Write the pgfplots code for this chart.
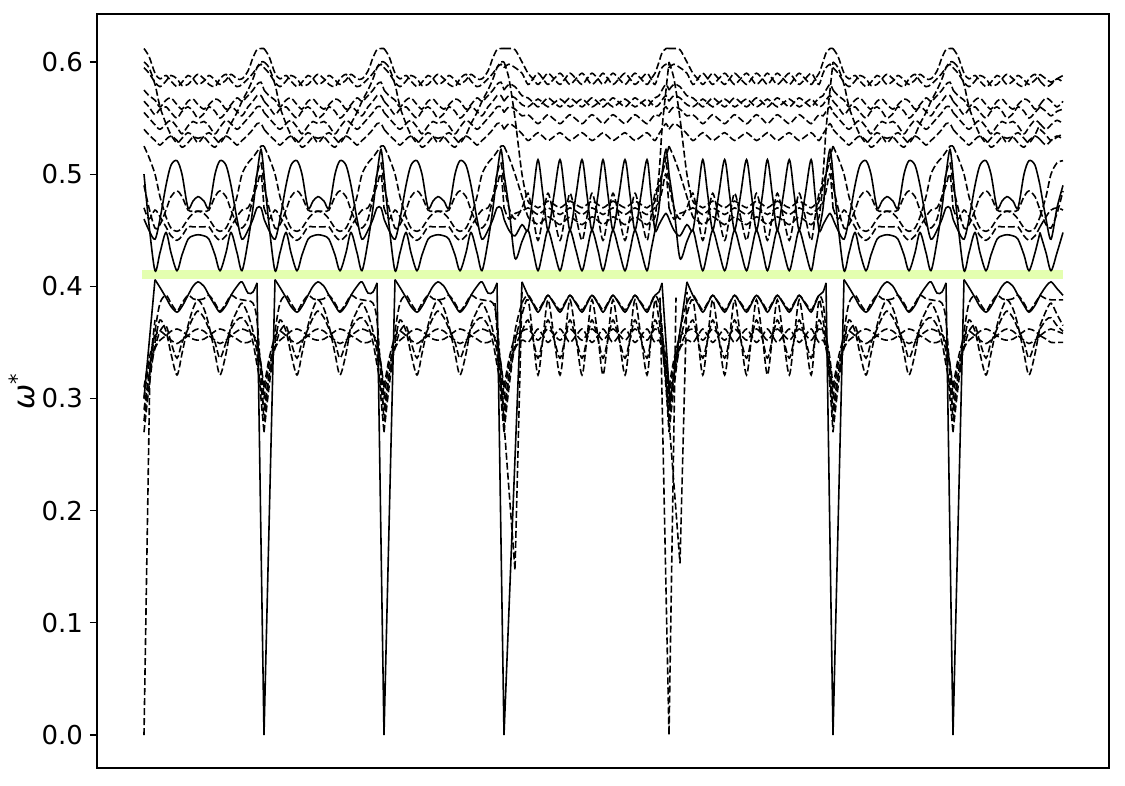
\documentclass[border=0pt]{standalone}
\usepackage{fontspec}
\setmainfont{DejaVu Sans}
\usepackage{pgfplots}
\usepackage{pgfplotstable}
\pgfplotsset{compat=1.18}
\definecolor{gband}{RGB}{228,255,176}

% type A segment (length 120)
\pgfplotstableread{
r L1 L2 L3 L4 L5 L6 M1 M2 M3 M4 M5 U1 U2 U3 U4 U5 U6 U7
0 nan 0.280 0.270 0.290 0.300 0.310 0.500 0.460 0.490 0.470 0.525 0.612 0.595 0.575 0.565 0.555 0.540 0.600
5 nan 0.320 0.310 0.320 0.330 0.335 0.455 0.450 0.470 0.460 0.515 0.605 0.590 0.570 0.560 0.550 0.535 0.595
11 0.406 0.360 0.350 0.345 0.345 0.355 0.414 0.442 0.452 0.468 0.500 0.590 0.582 0.566 0.553 0.544 0.530 0.580
16 0.399 0.385 0.370 0.360 0.352 0.360 0.430 0.460 0.455 0.462 0.480 0.585 0.578 0.560 0.558 0.540 0.526 0.560
22 0.390 0.392 0.360 0.365 0.356 0.356 0.448 0.490 0.468 0.453 0.462 0.588 0.583 0.566 0.560 0.545 0.531 0.545
27 0.382 0.385 0.340 0.350 0.360 0.352 0.430 0.508 0.480 0.445 0.452 0.583 0.588 0.568 0.555 0.548 0.534 0.535
33 0.377 0.378 0.321 0.336 0.362 0.349 0.414 0.512 0.485 0.441 0.449 0.578 0.585 0.562 0.550 0.542 0.530 0.528
38 0.382 0.385 0.340 0.350 0.360 0.352 0.428 0.500 0.480 0.445 0.452 0.582 0.579 0.558 0.556 0.536 0.524 0.532
44 0.392 0.392 0.365 0.362 0.356 0.356 0.442 0.470 0.468 0.453 0.460 0.588 0.580 0.565 0.560 0.543 0.528 0.537
49 0.400 0.389 0.380 0.372 0.353 0.360 0.445 0.476 0.467 0.453 0.465 0.585 0.585 0.567 0.556 0.547 0.533 0.534
54 0.404 0.388 0.388 0.378 0.352 0.362 0.446 0.480 0.467 0.453 0.467 0.580 0.589 0.562 0.550 0.545 0.532 0.528
60 0.400 0.389 0.380 0.372 0.353 0.360 0.445 0.476 0.467 0.453 0.465 0.583 0.585 0.558 0.554 0.547 0.533 0.534
65 0.392 0.392 0.365 0.362 0.356 0.356 0.442 0.470 0.468 0.453 0.460 0.588 0.580 0.562 0.560 0.543 0.528 0.537
71 0.383 0.385 0.340 0.350 0.360 0.352 0.428 0.500 0.480 0.445 0.452 0.584 0.578 0.567 0.556 0.536 0.524 0.532
76 0.377 0.378 0.321 0.336 0.362 0.349 0.414 0.512 0.485 0.441 0.449 0.580 0.585 0.565 0.550 0.542 0.530 0.528
82 0.383 0.385 0.340 0.350 0.360 0.352 0.430 0.508 0.480 0.445 0.452 0.584 0.589 0.558 0.555 0.548 0.534 0.535
87 0.392 0.392 0.365 0.362 0.356 0.356 0.448 0.490 0.468 0.453 0.462 0.589 0.583 0.562 0.560 0.545 0.531 0.545
93 0.400 0.389 0.378 0.370 0.353 0.360 0.430 0.460 0.455 0.462 0.480 0.585 0.578 0.568 0.556 0.540 0.526 0.555
98 0.404 0.388 0.385 0.372 0.350 0.362 0.414 0.442 0.452 0.468 0.500 0.585 0.580 0.565 0.552 0.544 0.530 0.565
104 0.394 0.387 0.375 0.365 0.350 0.360 0.440 0.450 0.460 0.470 0.510 0.592 0.585 0.570 0.560 0.550 0.535 0.575
109 0.395 0.385 0.360 0.350 0.352 0.357 0.470 0.460 0.480 0.480 0.515 0.604 0.590 0.575 0.565 0.555 0.540 0.585
113 0.403 0.370 0.340 0.330 0.350 0.350 0.500 0.470 0.500 0.490 0.520 0.611 0.595 0.580 0.570 0.560 0.545 0.595
117 nan 0.320 0.300 0.310 0.330 0.330 0.522 0.470 0.510 0.500 0.525 0.612 0.598 0.582 0.570 0.560 0.545 0.600
120 nan 0.280 0.270 0.290 0.300 0.310 0.500 0.460 0.490 0.470 0.525 0.612 0.595 0.575 0.565 0.555 0.540 0.600
}\tabA

% tail of the last segment (ends at the right edge without a spike)
\pgfplotstableread{
r L1 L2 L3 L4 L5 L6 M1 M2 M3 M4 M5 U1 U2 U3 U4 U5 U6 U7
87 0.392 0.392 0.365 0.362 0.356 0.356 0.448 0.490 0.468 0.453 0.462 0.589 0.583 0.562 0.560 0.545 0.531 0.540
93 0.400 0.389 0.378 0.370 0.353 0.360 0.430 0.460 0.455 0.462 0.480 0.585 0.578 0.568 0.556 0.540 0.526 0.535
98 0.404 0.388 0.385 0.372 0.350 0.362 0.414 0.442 0.452 0.468 0.500 0.582 0.580 0.565 0.552 0.544 0.530 0.530
104 0.398 0.388 0.375 0.365 0.350 0.360 0.430 0.470 0.465 0.470 0.510 0.585 0.585 0.560 0.556 0.548 0.534 0.533
110 0.392 0.388 0.365 0.360 0.350 0.358 0.448 0.490 0.485 0.468 0.512 0.588 0.582 0.565 0.558 0.545 0.531 0.536
}\tabT

% type B segment (length 165)
\pgfplotstableread{
r L1 L2 L3 L4 L5 L6 M1 M2 M3 M4 M5 U1 U2 U3 U4 U5 U6 U7
0 nan 0.280 0.270 0.290 0.300 0.310 0.500 0.460 0.490 0.470 0.525 0.612 0.595 0.575 0.565 0.555 0.540 0.600
5 nan 0.320 0.310 0.320 0.330 0.335 0.470 0.450 0.470 0.460 0.515 0.612 0.598 0.580 0.570 0.560 0.545 0.585
11 nan 0.360 0.350 0.345 0.345 0.355 0.425 0.445 0.460 0.465 0.500 0.611 0.595 0.578 0.568 0.558 0.542 0.550
18 0.404 0.385 0.375 0.360 0.352 0.360 0.440 0.455 0.470 0.467 0.480 0.600 0.590 0.570 0.562 0.552 0.536 0.500
24 0.392 0.392 0.388 0.370 0.350 0.362 0.450 0.450 0.483 0.470 0.462 0.590 0.580 0.568 0.560 0.553 0.530 0.476
29 0.3845 0.3855 0.3545 0.353 0.356 0.357 0.432 0.4815 0.462 0.467 0.4585 0.585 0.585 0.564 0.5635 0.549 0.5335 0.473
34 0.377 0.379 0.321 0.336 0.362 0.352 0.414 0.513 0.441 0.464 0.455 0.580 0.590 0.560 0.567 0.545 0.537 0.470
39 0.3845 0.3855 0.3545 0.353 0.356 0.357 0.432 0.4815 0.462 0.467 0.4585 0.585 0.585 0.564 0.5635 0.549 0.5335 0.473
44 0.392 0.392 0.388 0.370 0.350 0.362 0.450 0.450 0.483 0.470 0.462 0.590 0.580 0.568 0.560 0.553 0.530 0.476
50 0.3845 0.3855 0.3545 0.353 0.356 0.357 0.432 0.4815 0.462 0.467 0.4585 0.585 0.585 0.564 0.5635 0.549 0.5335 0.473
56 0.377 0.379 0.321 0.336 0.362 0.352 0.414 0.513 0.441 0.464 0.455 0.580 0.590 0.560 0.567 0.545 0.537 0.470
61 0.3845 0.3855 0.3545 0.353 0.356 0.357 0.432 0.4815 0.462 0.467 0.4585 0.585 0.585 0.564 0.5635 0.549 0.5335 0.473
66 0.392 0.392 0.388 0.370 0.350 0.362 0.450 0.450 0.483 0.470 0.462 0.590 0.580 0.568 0.560 0.553 0.530 0.476
72 0.3845 0.3855 0.3545 0.353 0.356 0.357 0.432 0.4815 0.462 0.467 0.4585 0.585 0.585 0.564 0.5635 0.549 0.5335 0.473
78 0.377 0.379 0.321 0.336 0.362 0.352 0.414 0.513 0.441 0.464 0.455 0.580 0.590 0.560 0.567 0.545 0.537 0.470
83 0.3845 0.3855 0.3545 0.353 0.356 0.357 0.432 0.4815 0.462 0.467 0.4585 0.585 0.585 0.564 0.5635 0.549 0.5335 0.473
88 0.392 0.392 0.388 0.370 0.350 0.362 0.450 0.450 0.483 0.470 0.462 0.590 0.580 0.568 0.560 0.553 0.530 0.476
94 0.3845 0.3855 0.3545 0.353 0.356 0.357 0.432 0.4815 0.462 0.467 0.4585 0.585 0.585 0.564 0.5635 0.549 0.5335 0.473
99 0.377 0.379 0.321 0.336 0.362 0.352 0.414 0.513 0.441 0.464 0.455 0.580 0.590 0.560 0.567 0.545 0.537 0.470
104 0.3845 0.3855 0.3545 0.353 0.356 0.357 0.432 0.4815 0.462 0.467 0.4585 0.585 0.585 0.564 0.5635 0.549 0.5335 0.473
109 0.392 0.392 0.388 0.370 0.350 0.362 0.450 0.450 0.483 0.470 0.462 0.590 0.580 0.568 0.560 0.553 0.530 0.476
115 0.3845 0.3855 0.3545 0.353 0.356 0.357 0.432 0.4815 0.462 0.467 0.4585 0.585 0.585 0.564 0.5635 0.549 0.5335 0.473
121 0.377 0.379 0.321 0.336 0.362 0.352 0.414 0.513 0.441 0.464 0.455 0.580 0.590 0.560 0.567 0.545 0.537 0.470
126 0.3845 0.3855 0.3545 0.353 0.356 0.357 0.432 0.4815 0.462 0.467 0.4585 0.585 0.585 0.564 0.5635 0.549 0.5335 0.473
131 0.392 0.392 0.388 0.370 0.350 0.362 0.450 0.450 0.483 0.470 0.462 0.590 0.580 0.568 0.560 0.553 0.530 0.476
137 0.3845 0.3855 0.3545 0.353 0.356 0.357 0.432 0.4815 0.462 0.467 0.4585 0.585 0.585 0.564 0.5635 0.549 0.5335 0.473
143 0.377 0.379 0.321 0.336 0.362 0.352 0.414 0.513 0.441 0.464 0.455 0.580 0.590 0.560 0.567 0.545 0.537 0.470
147 0.3845 0.3855 0.3545 0.353 0.356 0.357 0.432 0.4815 0.462 0.467 0.4585 0.585 0.585 0.564 0.5635 0.549 0.5335 0.473
151 0.392 0.392 0.388 0.370 0.350 0.362 0.450 0.450 0.483 0.470 0.462 0.590 0.580 0.568 0.560 0.553 0.530 0.476
155 0.395 0.385 0.370 0.360 0.352 0.360 0.470 0.455 0.490 0.475 0.490 0.600 0.590 0.570 0.562 0.552 0.536 0.500
158 0.403 0.360 0.350 0.345 0.345 0.355 0.500 0.460 0.500 0.485 0.500 0.608 0.595 0.575 0.566 0.556 0.540 0.540
162 nan 0.320 0.310 0.320 0.330 0.335 0.522 0.465 0.510 0.500 0.515 0.612 0.598 0.580 0.570 0.560 0.545 0.575
165 nan 0.280 0.270 0.290 0.300 0.310 0.500 0.460 0.490 0.470 0.525 0.612 0.595 0.575 0.565 0.555 0.540 0.600
}\tabB

\pgfplotsset{
  solB/.style={black, line width=0.8pt, smooth, tension=0.5, mark=none},
  dasB/.style={black, line width=0.8pt, dash pattern=on 3.5pt off 1.5pt, smooth, tension=0.5, mark=none},
  solS/.style={black, line width=0.8pt, mark=none},
  dasS/.style={black, line width=0.8pt, dash pattern=on 3.5pt off 1.5pt, mark=none},
}

% #1 extra options, #2 x scale, #3 x offset, #4 table
\newcommand{\seg}[4][]{%
  \addplot[solB,#1] table[x expr=\thisrow{r}*#2+#3, y=L1]{#4};
  \addplot[dasB,#1] table[x expr=\thisrow{r}*#2+#3, y=L2]{#4};
  \addplot[dasB,#1] table[x expr=\thisrow{r}*#2+#3, y=L3]{#4};
  \addplot[dasB,#1] table[x expr=\thisrow{r}*#2+#3, y=L4]{#4};
  \addplot[dasB,#1] table[x expr=\thisrow{r}*#2+#3, y=L5]{#4};
  \addplot[dasB,#1] table[x expr=\thisrow{r}*#2+#3, y=L6]{#4};
  \addplot[solB,#1] table[x expr=\thisrow{r}*#2+#3, y=M1]{#4};
  \addplot[solB,#1] table[x expr=\thisrow{r}*#2+#3, y=M2]{#4};
  \addplot[dasB,#1] table[x expr=\thisrow{r}*#2+#3, y=M3]{#4};
  \addplot[dasB,#1] table[x expr=\thisrow{r}*#2+#3, y=M4]{#4};
  \addplot[dasB,#1] table[x expr=\thisrow{r}*#2+#3, y=M5]{#4};
  \addplot[dasB,#1] table[x expr=\thisrow{r}*#2+#3, y=U1]{#4};
  \addplot[dasB,#1] table[x expr=\thisrow{r}*#2+#3, y=U2]{#4};
  \addplot[dasB,#1] table[x expr=\thisrow{r}*#2+#3, y=U3]{#4};
  \addplot[dasB,#1] table[x expr=\thisrow{r}*#2+#3, y=U4]{#4};
  \addplot[dasB,#1] table[x expr=\thisrow{r}*#2+#3, y=U5]{#4};
  \addplot[dasB,#1] table[x expr=\thisrow{r}*#2+#3, y=U6]{#4};
  \addplot[dasB,#1] table[x expr=\thisrow{r}*#2+#3, y=U7]{#4};
}

\begin{document}
\begin{tikzpicture}
\begin{axis}[
  scale only axis, width=506pt, height=377pt,
  xmin=97, xmax=1109, ymin=-0.0294, ymax=0.6428,
  xtick=\empty,
  ytick={0,0.1,0.2,0.3,0.4,0.5,0.6},
  ytick pos=left,
  tick align=outside, major tick length=3.5pt,
  tick style={black, line width=0.6pt},
  axis line style={black, line width=0.6pt},
  /pgf/number format/fixed, /pgf/number format/fixed zerofill,
  /pgf/number format/precision=1, /pgf/number format/assume math mode=true,
  ticklabel style={font=\fontsize{13}{15}\selectfont},
  ylabel={\itshape ω\textsuperscript{\upshape *}},
  ylabel style={at={(axis description cs:-0.074,0.5)}, anchor=center, font=\fontsize{15}{17}\selectfont},
]
\addplot[draw=gband, line width=4.5pt, forget plot] coordinates {(142,0.4105) (1063,0.4105)};

\seg{1}{144}{\tabA}
\seg{1}{264}{\tabA}
\seg{1}{384}{\tabA}
\seg{1}{504}{\tabB}
\seg{0.99394}{669}{\tabB}
\seg{1}{833}{\tabA}
\seg[restrict x to domain=950:1040.5]{1}{953}{\tabA}
\seg{1}{953}{\tabT}

% steep dips at the high-symmetry points
\addplot[solS] coordinates {(144,0.30) (155,0.406)};
\addplot[dasS] coordinates {(144,0.0) (150,0.33) (155,0.37)};
\addplot[solS] coordinates {(257,0.403) (264,0.0) (275,0.406)};
\addplot[solS] coordinates {(377,0.403) (384,0.0) (395,0.406)};
\addplot[solS] coordinates {(497,0.403) (504,0.0) (522,0.404)};
\addplot[dasS] coordinates {(495,0.385) (515,0.147) (522,0.395)};
\addplot[solS] coordinates {(662,0.403) (670,0.297) (687,0.404)};
\addplot[dasS] coordinates {(660,0.39) (669,0.0) (676,0.39)};
\addplot[dasS] coordinates {(660,0.385) (680,0.153) (687,0.395)};
\addplot[solS] coordinates {(826,0.403) (833,0.0) (844,0.406)};
\addplot[solS] coordinates {(946,0.403) (953,0.0) (964,0.406)};
\end{axis}
\pgfresetboundingbox
\path ([xshift=-48.5pt,yshift=-8.5pt]current axis.south west) rectangle ([xshift=8pt,yshift=7pt]current axis.north east);
\end{tikzpicture}
\end{document}
